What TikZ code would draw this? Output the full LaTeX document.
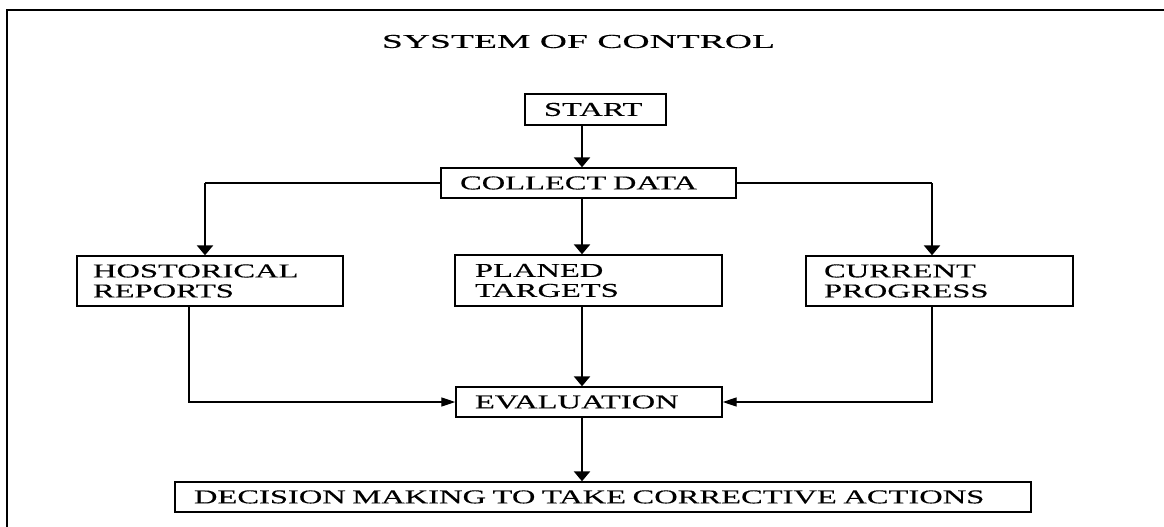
\documentclass[tikz,border=0pt]{standalone}
\usepackage{fontspec}
\setmainfont{Liberation Serif}[FakeStretch=1.66,FakeBold=0.3]
\newfontfamily\titlefont{Liberation Serif}[FakeStretch=1.92,FakeBold=0.3]
\usetikzlibrary{arrows.meta}
\begin{document}
\begin{tikzpicture}[x=1pt,y=-1pt,
  box/.style={draw, line width=1.4pt, inner xsep=19pt, inner ysep=0pt, align=left,
    font=\fontsize{19.6}{20}\selectfont, anchor=center},
  varrow/.style={line width=2.8pt, -{Triangle[length=10pt,width=16pt]}},
  hline/.style={line width=1.3pt},
  harrow/.style={line width=1.3pt, -{Triangle[length=14pt,width=9pt]}},
  frame/.style={line width=1.8pt}]
\useasboundingbox (0,0) rectangle (1164,527);
\draw[frame] (7,540) -- (7,10) -- (1175,10);
\node[font=\fontsize{19.6}{20}\titlefont] (title) at (578.5,41.5) {SYSTEM OF CONTROL};
\node[box, text width=103pt, minimum height=31pt] (start) at (595.5,109.5) {START};
\node[box, text width=257pt, minimum height=30pt] (collect) at (588.5,183) {COLLECT DATA};
\node[box, inner xsep=16pt, text width=234pt, minimum height=50pt] (hist) at (210,281) {HOSTORICAL\\REPORTS};
\node[box, inner xsep=20pt, text width=227pt, minimum height=51pt] (plan) at (588.5,280.5) {PLANED\\TARGETS};
\node[box, inner xsep=18pt, text width=231pt, minimum height=50pt] (curr) at (939.5,281) {CURRENT\\PROGRESS};
\node[box, text width=228pt, minimum height=30pt] (eval) at (589,402) {EVALUATION};
\node[box, text width=818pt, minimum height=30pt] (dec) at (603,497) {DECISION MAKING TO TAKE CORRECTIVE ACTIONS};
\coordinate (mx) at (582,0);
\coordinate (lx) at (205,0);
\coordinate (rx) at (932,0);
\coordinate (hx) at (189,0);
\draw[varrow] (start.south -| mx) -- (collect.north -| mx);
\draw[hline] (collect.west) -- (collect.west -| lx);
\draw[varrow] (collect.west -| lx) -- (hist.north -| lx);
\draw[hline] (collect.east) -- (collect.east -| rx);
\draw[varrow] (collect.east -| rx) -- (curr.north -| rx);
\draw[varrow] (collect.south -| mx) -- (plan.north -| mx);
\draw[harrow] (hist.south -| hx) |- (eval.west);
\draw[harrow] (curr.south -| rx) |- (eval.east);
\draw[varrow] (plan.south -| mx) -- (eval.north -| mx);
\draw[varrow] (eval.south -| mx) -- (dec.north -| mx);
\end{tikzpicture}
\end{document}
